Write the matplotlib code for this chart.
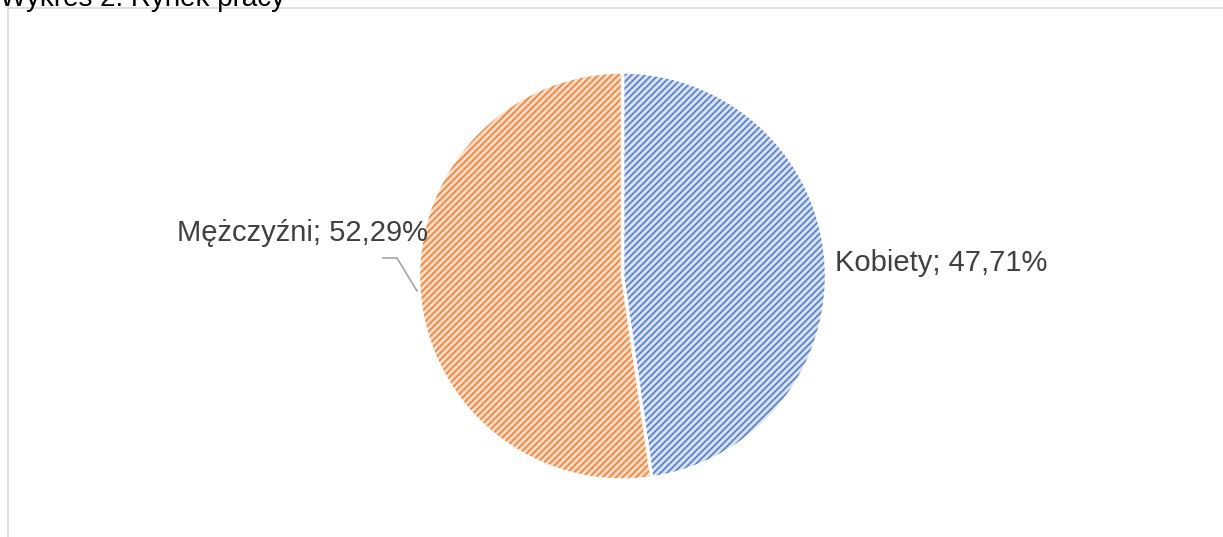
import matplotlib
matplotlib.use("Agg")
import matplotlib.pyplot as plt
from matplotlib.patches import Rectangle
import matplotlib as mpl

plt.rcParams['font.family'] = ['Liberation Sans', 'DejaVu Sans']

categories = ["Kobiety", "Mężczyźni"]
values = [47.71, 52.29]
labels = ["Kobiety; 47,71%", "Mężczyźni; 52,29%"]
face_colors = ["#d9e2f4", "#fcdcc8"]
hatch_colors = ["#5a82cb", "#f0873f"]

W, H = 1223, 537
fig = plt.figure(figsize=(W / 100, H / 100), dpi=100)

# chart border (Excel chart area, partially cut)
fig.patches.append(Rectangle((8 / W, -0.1), 1.2, 1 - 8 / H + 0.1, transform=fig.transFigure,
                             fill=False, edgecolor="#d9d9d9", linewidth=1.2))

# title, cut off at the top as in the reference
fig.text(0 / W, 1 + 14 / H, "Wykres 2. Rynek pracy", fontsize=20, color="#000000",
         ha="left", va="top")

cx, cy, r = 622.5, 276, 204
ax = fig.add_axes([(cx - r) / W, 1 - (cy + r) / H, 2 * r / W, 2 * r / H])
mpl.rcParams['hatch.linewidth'] = 1.3
wedges, _ = ax.pie(values, startangle=90, counterclock=False, radius=1,
                   colors=face_colors,
                   wedgeprops=dict(edgecolor="white", linewidth=2.5))
for w, hc in zip(wedges, hatch_colors):
    w.set_hatch("/////")
    w._hatch_color = mpl.colors.to_rgba(hc)
ax.set_xlim(-1, 1)
ax.set_ylim(-1, 1)
ax.set_aspect("equal")
ax.axis("off")

def px(x, y):
    return x / W, 1 - y / H

fig.text(*px(835, 263), labels[0], fontsize=21, color="#404040", ha="left", va="center")
fig.text(*px(428, 233), labels[1], fontsize=21, color="#404040", ha="right", va="center")

# leader line for Mężczyźni label
xs = [383, 397, 417]
ys = [258, 258, 291]
fig.lines.append(plt.Line2D([x / W for x in xs], [1 - y / H for y in ys],
                            transform=fig.transFigure, color="#a6a6a6", linewidth=1.2))

fig.savefig("out.png", dpi=100)
